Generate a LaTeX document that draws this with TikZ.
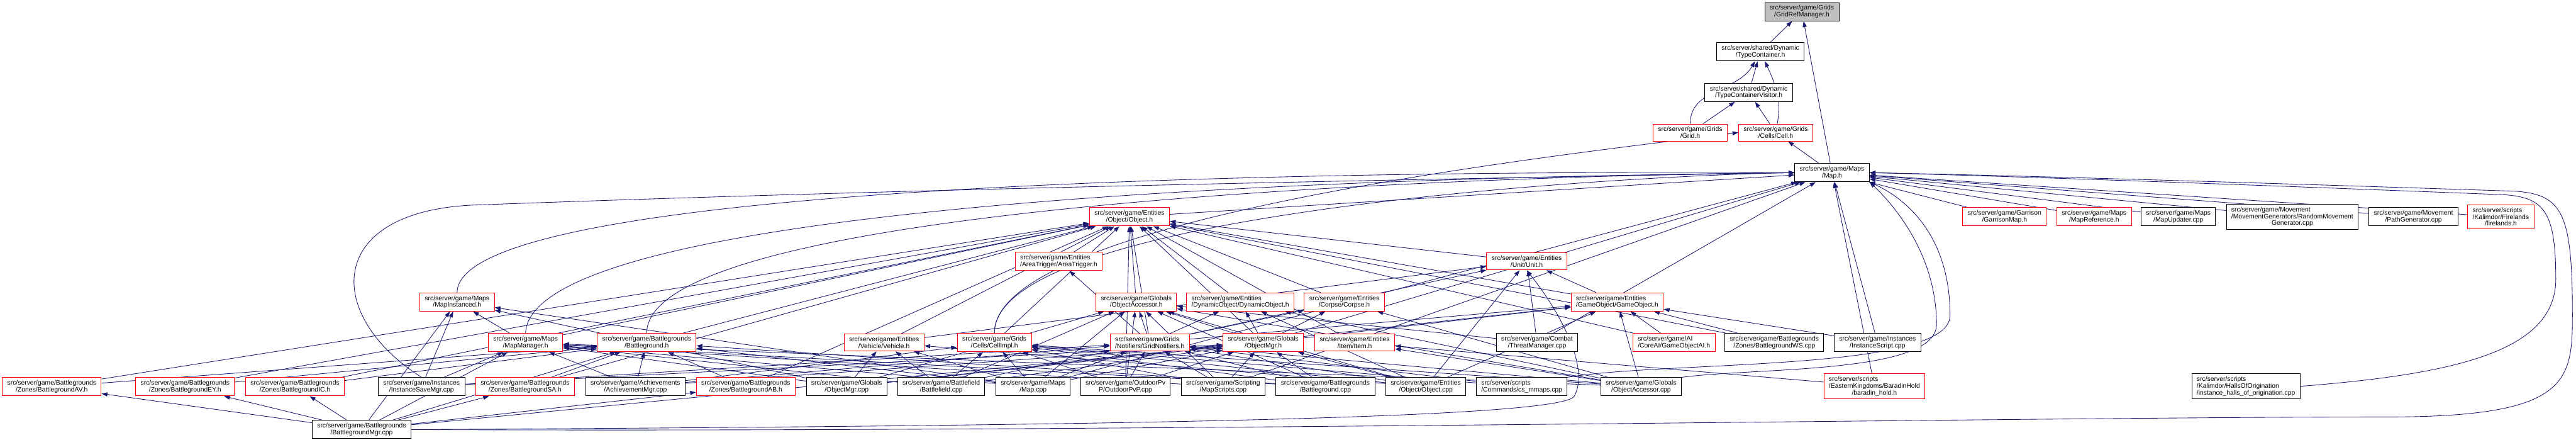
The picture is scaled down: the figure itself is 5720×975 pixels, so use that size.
\documentclass[tikz,border=0pt]{standalone}
\usepackage{fontspec}
\setmainfont{Liberation Sans}
\usepackage{xcolor}
\usepackage{tikz}
\usetikzlibrary{arrows.meta}
\definecolor{edgeblue}{HTML}{191970}
\definecolor{rootgray}{HTML}{BFBFBF}
\pgfdeclarelayer{edges}
\pgfsetlayers{edges,main}

\begin{document}
\begin{tikzpicture}[
  x=1pt, y=1pt,
  file/.style={draw=black, line width=1.4pt, fill=white, align=left, inner xsep=11pt, inner ysep=6pt, font=\fontsize{14.5}{15}\selectfont},
  trunc/.style={file, draw=red},
  root/.style={file, fill=rootgray},
  dep/.style={draw=edgeblue, line width=1.2pt, -{Triangle[length=13pt,width=9pt]}}
]
\useasboundingbox (0,0) rectangle (5720,-975);

\node[root] (grm) at (4001,-26) {src/server/game/Grids\\\hfil/GridRefManager.h};
\node[file] (tc) at (3909,-115) {src/server/shared/Dynamic\\\hfil/TypeContainer.h};
\node[file] (tcv) at (3883,-205) {src/server/shared/Dynamic\\\hfil/TypeContainerVisitor.h};
\node[trunc] (grid) at (3753,-294) {src/server/game/Grids\\\hfil/Grid.h};
\node[trunc] (cell) at (3943,-294) {src/server/game/Grids\\\hfil/Cells/Cell.h};
\node[file] (map) at (4068,-383) {src/server/game/Maps\\\hfil/Map.h};

\node[trunc] (object) at (2508,-481) {src/server/game/Entities\\\hfil/Object/Object.h};
\node[trunc] (garrison) at (4451,-481) {src/server/game/Garrison\\\hfil/GarrisonMap.h};
\node[trunc] (mapref) at (4650,-481) {src/server/game/Maps\\\hfil/MapReference.h};
\node[file] (mapupd) at (4837,-481) {src/server/game/Maps\\\hfil/MapUpdater.cpp};
\node[file] (randmove) at (5090,-481) {src/server/game/Movement\\/MovementGenerators/RandomMovement\\\hfil Generator.cpp};
\node[file] (pathgen) at (5359,-481) {src/server/game/Movement\\\hfil/PathGenerator.cpp};
\node[trunc] (firelands) at (5553,-481) {src/server/scripts\\/Kalimdor/Firelands\\\hfil/firelands.h};

\node[trunc] (areatrigger) at (2351,-580) {src/server/game/Entities\\\hfil/AreaTrigger/AreaTrigger.h};
\node[trunc] (unit) at (3390,-580) {src/server/game/Entities\\\hfil/Unit/Unit.h};

\node[trunc] (mapinst) at (1015,-670) {src/server/game/Maps\\\hfil/MapInstanced.h};
\node[trunc] (objacc) at (2523,-670) {src/server/game/Globals\\\hfil/ObjectAccessor.h};
\node[trunc] (dynobj) at (2754,-670) {src/server/game/Entities\\\hfil/DynamicObject/DynamicObject.h};
\node[trunc] (corpse) at (2985,-670) {src/server/game/Entities\\\hfil/Corpse/Corpse.h};
\node[trunc] (gameobj) at (3591,-670) {src/server/game/Entities\\\hfil/GameObject/GameObject.h};

\node[trunc] (mapmgr) at (1167,-760) {src/server/game/Maps\\\hfil/MapManager.h};
\node[trunc] (bg) at (1436,-760) {src/server/game/Battlegrounds\\\hfil/Battleground.h};
\node[trunc] (vehicle) at (1963,-760) {src/server/game/Entities\\\hfil/Vehicle/Vehicle.h};
\node[trunc] (cellimpl) at (2208,-760) {src/server/game/Grids\\\hfil/Cells/CellImpl.h};
\node[trunc] (gridnot) at (2553,-760) {src/server/game/Grids\\\hfil/Notifiers/GridNotifiers.h};
\node[trunc] (objmgrh) at (2805,-760) {src/server/game/Globals\\\hfil/ObjectMgr.h};
\node[trunc] (item) at (3008,-760) {src/server/game/Entities\\\hfil/Item/Item.h};
\node[file] (threat) at (3413,-760) {src/server/game/Combat\\\hfil/ThreatManager.cpp};
\node[trunc] (goai) at (3717,-760) {src/server/game/AI\\\hfil/CoreAI/GameObjectAI.h};
\node[file] (bgws) at (3940,-760) {src/server/game/Battlegrounds\\\hfil/Zones/BattlegroundWS.cpp};
\node[file] (instscript) at (4169,-760) {src/server/game/Instances\\\hfil/InstanceScript.cpp};

\node[trunc] (bgav) at (115,-858) {src/server/game/Battlegrounds\\\hfil/Zones/BattlegroundAV.h};
\node[trunc] (bgey) at (411,-858) {src/server/game/Battlegrounds\\\hfil/Zones/BattlegroundEY.h};
\node[trunc] (bgic) at (655,-858) {src/server/game/Battlegrounds\\\hfil/Zones/BattlegroundIC.h};
\node[file] (instsave) at (936,-858) {src/server/game/Instances\\\hfil/InstanceSaveMgr.cpp};
\node[trunc] (bgsa) at (1166,-858) {src/server/game/Battlegrounds\\\hfil/Zones/BattlegroundSA.h};
\node[file] (achmgr) at (1411,-858) {src/server/game/Achievements\\\hfil/AchievementMgr.cpp};
\node[trunc] (bgab) at (1656,-858) {src/server/game/Battlegrounds\\\hfil/Zones/BattlegroundAB.h};
\node[file] (objmgrcpp) at (1880,-858) {src/server/game/Globals\\\hfil/ObjectMgr.cpp};
\node[file] (bfcpp) at (2090,-858) {src/server/game/Battlefield\\\hfil/Battlefield.cpp};
\node[file] (mapcpp) at (2294,-858) {src/server/game/Maps\\\hfil/Map.cpp};
\node[file] (opvp) at (2499,-858) {src/server/game/OutdoorPv\\\hfil P/OutdoorPvP.cpp};
\node[file] (mapscripts) at (2716,-858) {src/server/game/Scripting\\\hfil/MapScripts.cpp};
\node[file] (bgcpp) at (2943,-858) {src/server/game/Battlegrounds\\\hfil/Battleground.cpp};
\node[file] (objcpp) at (3166,-858) {src/server/game/Entities\\\hfil/Object/Object.cpp};
\node[file] (mmaps) at (3379,-858) {src/server/scripts\\\hfil/Commands/cs\_mmaps.cpp};
\node[file] (objacccpp) at (3644,-858) {src/server/game/Globals\\\hfil/ObjectAccessor.cpp};
\node[trunc] (baradin) at (4162,-857) {src/server/scripts\\/EasternKingdoms/BaradinHold\\\hfil/baradin\_hold.h};
\node[file] (halls) at (4987,-857) {src/server/scripts\\/Kalimdor/HallsOfOrigination\\/instance\_halls\_of\_origination.cpp};
\node[file] (bgmgr) at (803,-953) {src/server/game/Battlegrounds\\\hfil/BattlegroundMgr.cpp};

\begin{pgfonlayer}{edges}
\foreach \a/\b in {tc/grm, map/grm, tcv/tc, grid/tcv, cell/tcv, map/cell,
  object/map, garrison/map, mapref/map, mapupd/map, randmove/map, pathgen/map, firelands/map,
  areatrigger/object, unit/object, objacc/object, dynobj/object, corpse/object, gameobj/object, gameobj/unit,
  vehicle/object, vehicle/unit, bg/object, mapmgr/object, mapmgr/mapinst,
  gridnot/object, gridnot/objacc, gridnot/unit, gridnot/dynobj, gridnot/corpse, gridnot/gameobj, gridnot/areatrigger,
  objmgrh/object, objmgrh/objacc, objmgrh/dynobj, objmgrh/corpse, objmgrh/gameobj, objmgrh/map,
  item/object, cellimpl/object, threat/unit, threat/map, threat/objacc,
  goai/gameobj, goai/object, bgws/gameobj, bgws/object, instscript/map, instscript/gameobj,
  bgav/bg, bgav/object, bgey/bg, bgey/object, bgic/bg, bgic/object, bgsa/bg, bgsa/object, bgab/bg, bgab/object,
  instsave/mapinst, instsave/mapmgr, instsave/gridnot, instsave/objmgrh,
  bgmgr/bgav, bgmgr/bgey, bgmgr/bgic, bgmgr/bgsa, bgmgr/bgab, bgmgr/mapinst, bgmgr/mapmgr, bgmgr/bg, bgmgr/objmgrh,
  achmgr/mapmgr, achmgr/bg, achmgr/cellimpl, achmgr/gridnot, achmgr/objmgrh,
  objmgrcpp/mapinst, objmgrcpp/mapmgr, objmgrcpp/vehicle, objmgrcpp/objmgrh, objmgrcpp/gameobj, objmgrcpp/objacc,
  bfcpp/objacc, bfcpp/cellimpl, bfcpp/gridnot, bfcpp/objmgrh, bfcpp/vehicle, bfcpp/mapmgr,
  mapcpp/map, mapcpp/mapinst, mapcpp/mapmgr, mapcpp/cellimpl, mapcpp/gridnot, mapcpp/objacc, mapcpp/objmgrh, mapcpp/vehicle, mapcpp/bg,
  opvp/object, opvp/objacc, opvp/gridnot, opvp/cellimpl, opvp/objmgrh,
  mapscripts/map, mapscripts/gridnot, mapscripts/objmgrh, mapscripts/cellimpl, mapscripts/objacc, mapscripts/mapmgr,
  bgcpp/bg, bgcpp/objmgrh, bgcpp/gridnot, bgcpp/cellimpl, bgcpp/objacc, bgcpp/mapmgr,
  objcpp/unit, objcpp/gridnot, objcpp/cellimpl, objcpp/objmgrh, objcpp/objacc, objcpp/vehicle, objcpp/gameobj, objcpp/dynobj,
  mmaps/cellimpl, mmaps/gridnot,
  objacccpp/gameobj, objacccpp/objacc, objacccpp/cellimpl, objacccpp/gridnot, objacccpp/mapmgr, objacccpp/item, objacccpp/dynobj, objacccpp/corpse,
  baradin/map, baradin/item}
  \draw[dep] (\a) -- (\b);
\draw[dep] (mapinst.north) .. controls (1015,-360) and (3690,-383) .. (map.west);
\draw[dep] (mapmgr.north) .. controls (1180,-400) and (3690,-388) .. (map.west);
\draw[dep] (bg.north) .. controls (1436,-420) and (3690,-385) .. (map.west);
\draw[dep] (cellimpl.north) .. controls (2208,-470) and (3600,-390) .. (map.west);
\draw[dep] (cellimpl.north) .. controls (2208,-470) and (3600,-330) .. (cell.west);
\draw[dep] (grid) to[out=90, in=-120] (tc);
\draw[dep] (cell) to[out=80, in=-65] (tc);
\draw[dep] (instsave.north) .. controls (720,-700) and (720,-470) .. (1050,-455) .. controls (2000,-420) and (3000,-400) .. (map.west);
\draw[dep] (objacccpp.north east) .. controls (3900,-815) and (4300,-830) .. (4300,-720) .. controls (4300,-560) and (4200,-450) .. (map.south east);
\draw[dep] (mmaps.north east) .. controls (3700,-800) and (4330,-825) .. (4330,-700) .. controls (4330,-520) and (4230,-440) .. (map.south east);
\draw[dep] (bgmgr.east) .. controls (2400,-945) and (3450,-930) .. (3495,-880) .. controls (3530,-820) and (3470,-700) .. (unit.south);
\draw[dep] (halls.east) .. controls (5450,-830) and (5675,-780) .. (5675,-620) .. controls (5675,-470) and (5650,-438) .. (5560,-432) .. controls (5000,-410) and (4500,-392) .. (map.east);
\draw[dep] (bgmgr.east) .. controls (2500,-960) and (4500,-925) .. (5300,-925) .. controls (5700,-925) and (5712,-850) .. (5712,-700) .. controls (5712,-470) and (5690,-430) .. (5580,-424) .. controls (5000,-405) and (4500,-390) .. (map.east);
\end{pgfonlayer}
\end{tikzpicture}
\end{document}
